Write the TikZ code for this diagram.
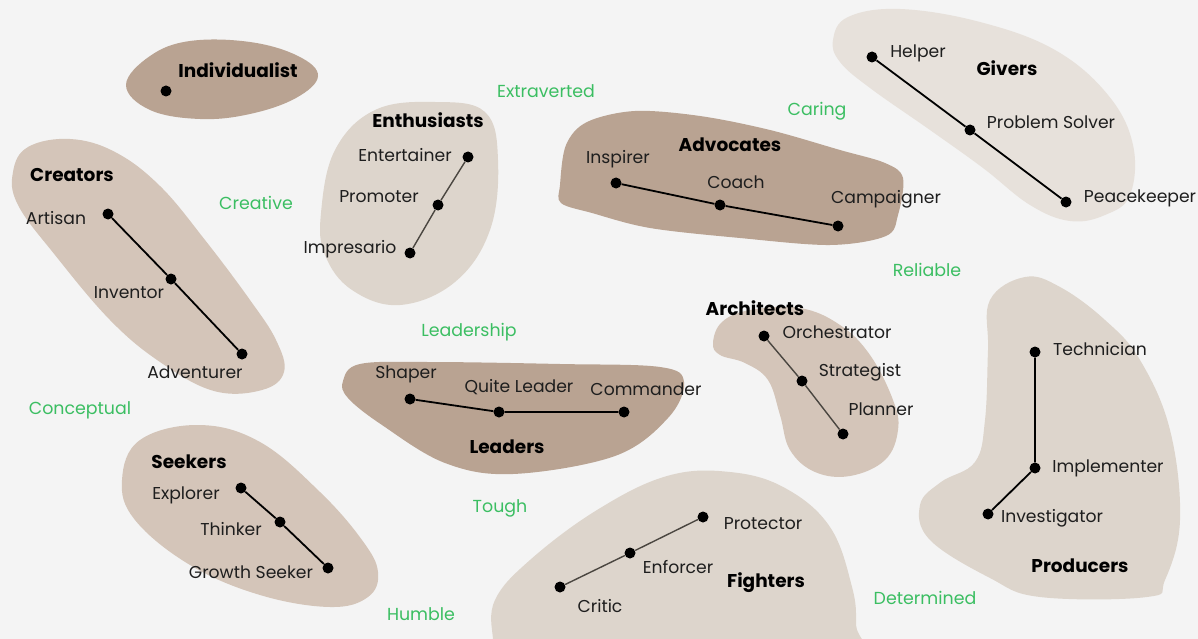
\documentclass[tikz,border=0pt]{standalone}
\usepackage{fontspec}
\setmainfont{Poppins}
\begin{document}
\begin{tikzpicture}[x=1pt,y=-1pt,
  blob/.style={draw=none,smooth cycle,tension=0.65},
  dot/.style={circle,fill=black,inner sep=0pt,minimum size=11pt},
  lbl/.style={inner sep=0pt,font=\fontsize{17.2}{19}\selectfont,text=labeltext},
  head/.style={inner sep=0pt,font=\fontsize{18.5}{20}\selectfont\bfseries,text=black},
  trait/.style={inner sep=0pt,font=\fontsize{17.4}{19}\selectfont,text=traitgreen},
  link/.style={line width=1.8pt,draw=black},
  thin link/.style={line width=1.4pt,draw=thinline}]
\definecolor{bgcol}{HTML}{F4F4F4}
\definecolor{darkblob}{HTML}{B9A392}
\definecolor{midblob}{HTML}{D4C5B9}
\definecolor{lightblob}{HTML}{DDD5CC}
\definecolor{paleblob}{HTML}{E7E1DB}
\definecolor{traitgreen}{HTML}{3BBE62}
\definecolor{labeltext}{HTML}{1E1E1E}
\definecolor{thinline}{HTML}{4A4640}

\useasboundingbox (0,0) rectangle (1198,639);
\clip (0,0) rectangle (1198,639);
\fill[bgcol] (0,0) rectangle (1198,639);

% ---- group shapes ----
\fill[darkblob] plot[blob] coordinates {(126,85) (150,56) (190,41) (250,42) (298,56) (318,76) (296,98) (250,114) (200,119) (150,110)};
\fill[midblob] plot[blob] coordinates {(13,172) (28,147) (70,139) (115,152) (160,186) (205,240) (250,300) (276,340) (284,372) (262,390) (214,391) (160,362) (110,320) (55,255) (18,205)};
\fill[lightblob] plot[blob] coordinates {(321,213) (335,150) (375,110) (435,102) (485,112) (498,160) (490,230) (455,282) (400,305) (352,290) (325,255)};
\fill[darkblob] plot[blob,tension=0.55] coordinates {(560,185) (566,145) (587,122) (635,111) (700,116) (770,130) (840,150) (885,163) (903,178) (898,215) (886,236) (830,245) (740,238) (650,228) (592,213) (561,203)};
\fill[paleblob] plot[blob] coordinates {(833,40) (848,17) (900,9) (980,22) (1055,50) (1108,95) (1133,145) (1130,195) (1105,215) (1070,221) (1030,205) (983,168) (930,130) (870,88) (840,62)};
\fill[darkblob] plot[blob,tension=0.6] coordinates {(343,381) (360,364) (430,362) (560,364) (660,367) (684,382) (668,418) (615,456) (513,474) (445,463) (382,425) (348,398)};
\fill[midblob] plot[blob] coordinates {(713,343) (722,322) (750,310) (800,308) (840,325) (870,355) (893,400) (898,430) (885,460) (850,476) (815,472) (790,450) (780,415) (768,380) (745,363) (720,355)};
\fill[midblob] plot[blob] coordinates {(122,480) (140,440) (199,425) (260,442) (320,492) (362,540) (378,572) (368,597) (330,607) (260,595) (190,565) (135,520)};
\fill[lightblob] plot[blob] coordinates {(990,300) (1025,277) (1060,287) (1105,320) (1140,360) (1170,430) (1180,520) (1165,580) (1147,597) (1040,597) (990,578) (930,540) (920,505) (941,482) (975,462) (985,420) (988,350)};
\fill[lightblob] plot[blob] coordinates {(493,639) (495,600) (530,560) (597,510) (667,476) (730,472) (785,488) (830,527) (852,587) (856,625) (852,660) (700,672) (500,665)};

% ---- trait words ----
\node[trait] (extraverted) at (546,91) {Extraverted};
\node[trait] (creative) at (256,203) {Creative};
\node[trait] (conceptual) at (80,410) {Conceptual};
\node[trait] (leadership) at (469,332) {Leadership};
\node[trait] (tough) at (500,508) {Tough};
\node[trait] (humble) at (421,614) {Humble};
\node[trait] (caring) at (817,111) {Caring};
\node[trait] (reliable) at (927,270) {Reliable};
\node[trait] (determined) at (925,598) {Determined};

% ---- Individualist ----
\node[head] (individualist) at (238,70) {Individualist};
\node[dot] (indiv) at (166,91) {};

% ---- Creators ----
\node[head] (creators) at (72,175) {Creators};
\node[dot] (artisan) at (108,214) {};
\node[dot] (inventor) at (171,279) {};
\node[dot] (adventurer) at (242,354) {};
\draw[link] (artisan) -- (inventor) -- (adventurer);
\node[lbl] (artisanL) at (56,218) {Artisan};
\node[lbl] (inventorL) at (129,293) {Inventor};
\node[lbl] (adventurerL) at (195,372) {Adventurer};

% ---- Enthusiasts ----
\node[head] (enthusiasts) at (428,120) {Enthusiasts};
\node[dot] (entertainer) at (468,157) {};
\node[dot] (promoter) at (438,205) {};
\node[dot] (impresario) at (410,253) {};
\draw[thin link] (entertainer) -- (promoter) -- (impresario);
\node[lbl] (entertainerL) at (405,155) {Entertainer};
\node[lbl] (promoterL) at (379,197) {Promoter};
\node[lbl] (impresarioL) at (350,249) {Impresario};

% ---- Advocates ----
\node[head] (advocates) at (730,145) {Advocates};
\node[dot] (inspirer) at (616,183) {};
\node[dot] (coach) at (720,205) {};
\node[dot] (campaigner) at (838,226) {};
\draw[link] (inspirer) -- (coach) -- (campaigner);
\node[lbl] (inspirerL) at (618,159) {Inspirer};
\node[lbl] (coachL) at (736,182) {Coach};
\node[lbl] (campaignerL) at (886,199) {Campaigner};

% ---- Givers ----
\node[head] (givers) at (1007,68) {Givers};
\node[dot] (helper) at (872,57) {};
\node[dot] (solver) at (970,130) {};
\node[dot] (peacekeeper) at (1066,202) {};
\draw[link] (helper) -- (solver) -- (peacekeeper);
\node[lbl] (helperL) at (918,53) {Helper};
\node[lbl] (solverL) at (1051,122) {Problem Solver};
\node[lbl] (peacekeeperL) at (1140,198) {Peacekeeper};

% ---- Leaders ----
\node[head] (leaders) at (507,447) {Leaders};
\node[dot] (shaper) at (410,399) {};
\node[dot] (quiet) at (499,412) {};
\node[dot] (commander) at (624,412) {};
\draw[link] (shaper) -- (quiet) -- (commander);
\node[lbl] (shaperL) at (406,374) {Shaper};
\node[lbl] (quietL) at (519,387) {Quite Leader};
\node[lbl] (commanderL) at (646,389) {Commander};

% ---- Architects ----
\node[head] (architects) at (755,308) {Architects};
\node[dot] (orchestrator) at (764,336) {};
\node[dot] (strategist) at (802,381) {};
\node[dot] (planner) at (843,434) {};
\draw[thin link] (orchestrator) -- (strategist) -- (planner);
\node[lbl] (orchestratorL) at (837,332) {Orchestrator};
\node[lbl] (strategistL) at (860,372) {Strategist};
\node[lbl] (plannerL) at (881,409) {Planner};

% ---- Seekers ----
\node[head] (seekers) at (189,462) {Seekers};
\node[dot] (explorer) at (241,488) {};
\node[dot] (thinker) at (280,522) {};
\node[dot] (growth) at (328,568) {};
\draw[link] (explorer) -- (thinker) -- (growth);
\node[lbl] (explorerL) at (186,495) {Explorer};
\node[lbl] (thinkerL) at (231,529) {Thinker};
\node[lbl] (growthL) at (251,572) {Growth Seeker};

% ---- Fighters ----
\node[head] (fighters) at (766,583) {Fighters};
\node[dot] (critic) at (560,587) {};
\node[dot] (enforcer) at (630,553) {};
\node[dot] (protector) at (703,517) {};
\draw[thin link] (critic) -- (enforcer) -- (protector);
\node[lbl] (criticL) at (600,606) {Critic};
\node[lbl] (enforcerL) at (678,567) {Enforcer};
\node[lbl] (protectorL) at (763,524) {Protector};

% ---- Producers ----
\node[head] (producers) at (1080,566) {Producers};
\node[dot] (technician) at (1035,352) {};
\node[dot] (implementer) at (1035,468) {};
\node[dot] (investigator) at (988,514) {};
\draw[link] (technician) -- (implementer) -- (investigator);
\node[lbl] (technicianL) at (1100,349) {Technician};
\node[lbl] (implementerL) at (1108,468) {Implementer};
\node[lbl] (investigatorL) at (1052,518) {Investigator};
\end{tikzpicture}
\end{document}
